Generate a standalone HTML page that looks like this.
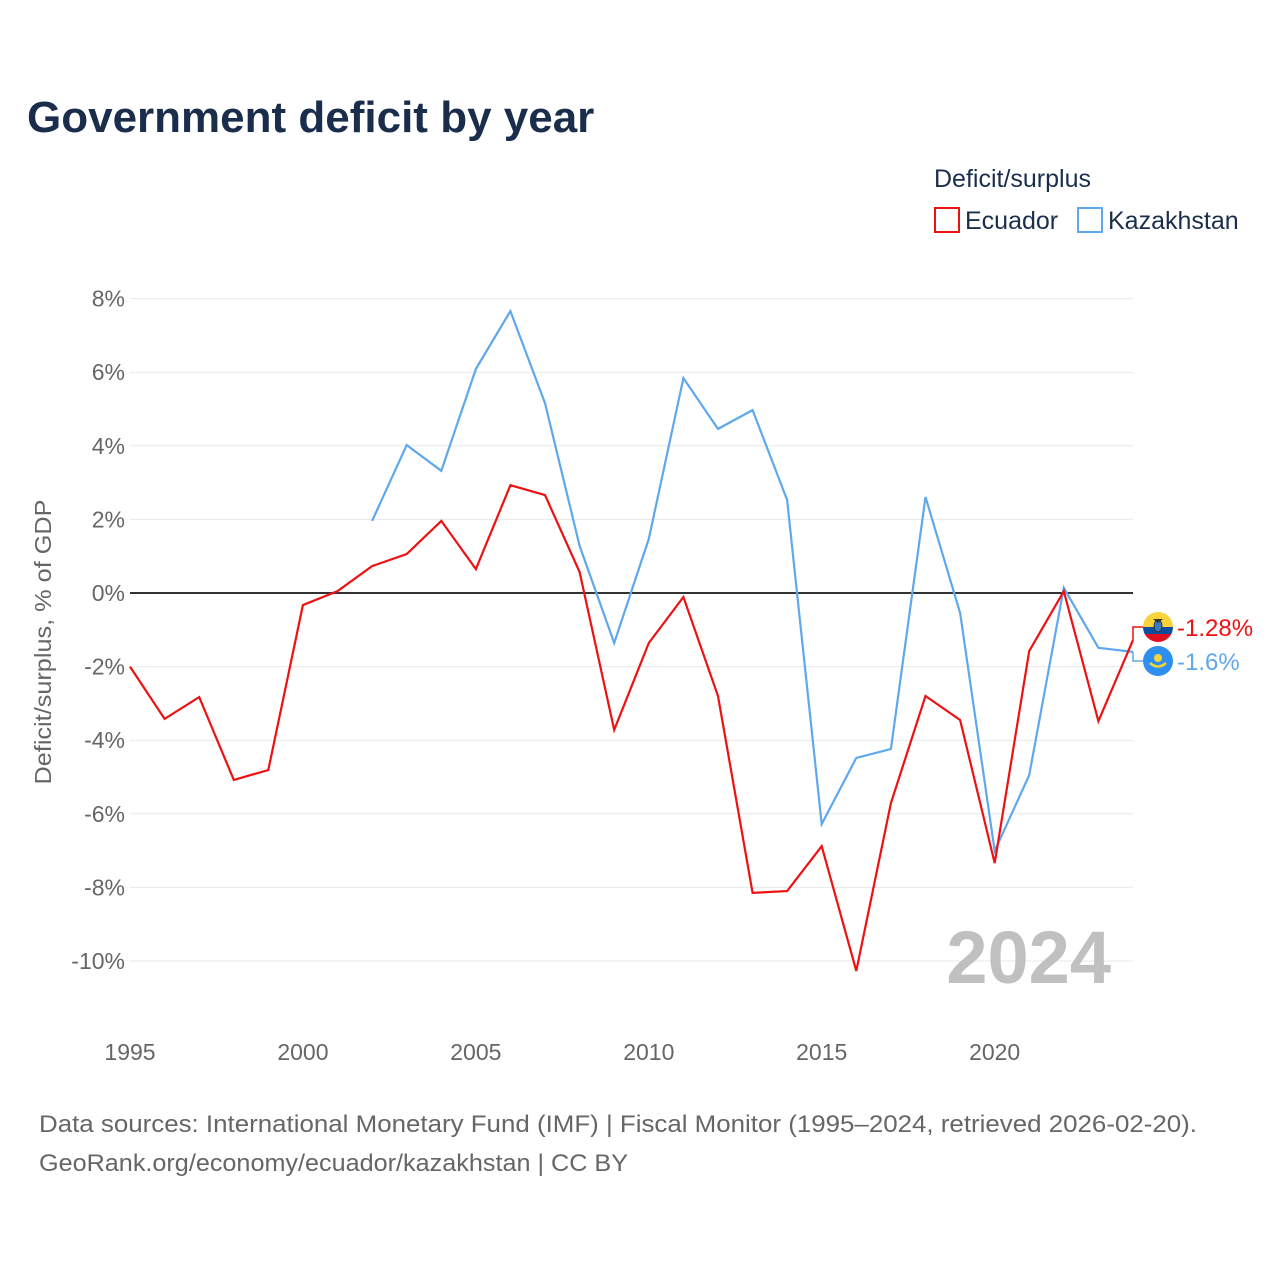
<!DOCTYPE html>
<html><head><meta charset="utf-8">
<style>
body{margin:0;background:#fff;font-family:"Liberation Sans",sans-serif;}
#wrap{position:relative;width:1280px;height:1280px;overflow:hidden;}
</style></head>
<body>
<div id="wrap">
<svg id="svg" width="1280" height="1280" xmlns="http://www.w3.org/2000/svg">
  <text x="27" y="132" font-size="44" font-weight="bold" fill="#1a2e4c">Government deficit by year</text>
  <text x="934" y="187" font-size="25" fill="#1a2e4c">Deficit/surplus</text>
  <g>
    <rect x="935" y="208" width="24" height="24" fill="none" stroke="#ee1111" stroke-width="2"/>
    <text x="965" y="229" font-size="25" fill="#1a2e4c">Ecuador</text>
  </g>
  <g>
    <rect x="1078" y="208" width="24" height="24" fill="none" stroke="#5fa8ec" stroke-width="2"/>
    <text x="1108" y="229" font-size="25" fill="#1a2e4c">Kazakhstan</text>
  </g>
  <g id="grid"></g>
  <text x="1111" y="983" font-size="74" font-weight="bold" fill="#c0c0c0" text-anchor="end">2024</text>
  <g id="series"></g>
  <text transform="translate(51,642) rotate(-90)" font-size="23" fill="#666" text-anchor="middle" textLength="285" lengthAdjust="spacingAndGlyphs">Deficit/surplus, % of GDP</text>
  <text x="39" y="1132" font-size="24" fill="#666" textLength="1158" lengthAdjust="spacingAndGlyphs">Data sources: International Monetary Fund (IMF) | Fiscal Monitor (1995–2024, retrieved 2026-02-20).</text>
  <text x="39" y="1171" font-size="24" fill="#666" textLength="589" lengthAdjust="spacingAndGlyphs">GeoRank.org/economy/ecuador/kazakhstan | CC BY</text>
</svg>
</div>
<script>
const years = [1995,1996,1997,1998,1999,2000,2001,2002,2003,2004,2005,2006,2007,2008,2009,2010,2011,2012,2013,2014,2015,2016,2017,2018,2019,2020,2021,2022,2023,2024];
const ecuador = [-2.0,-3.42,-2.83,-5.08,-4.81,-0.33,0.05,0.73,1.06,1.96,0.65,2.93,2.66,0.57,-3.72,-1.36,-0.11,-2.80,-8.15,-8.10,-6.88,-10.27,-5.71,-2.80,-3.45,-7.34,-1.58,0.05,-3.48,-1.28];
const kazakhstan = [null,null,null,null,null,null,null,1.96,4.02,3.32,6.09,7.66,5.16,1.28,-1.36,1.47,5.84,4.46,4.97,2.53,-6.28,-4.48,-4.24,2.61,-0.54,-7.01,-4.95,0.14,-1.49,-1.60];
const yTicks = [8,6,4,2,0,-2,-4,-6,-8,-10];
const yTickLabels = ["8%","6%","4%","2%","0%","-2%","-4%","-6%","-8%","-10%"];
const xTicks = [1995,2000,2005,2010,2015,2020];

const NS="http://www.w3.org/2000/svg";
const X = y => 130 + (y-1995)*(1133-130)/29;
const Y = v => 593 - v*36.8;
function mk(tag, attrs, parent){const e=document.createElementNS(NS,tag);for(const k in attrs)e.setAttribute(k,attrs[k]);parent.appendChild(e);return e;}
const grid=document.getElementById('grid'), ser=document.getElementById('series');

yTicks.forEach((t,i)=>{
  const l=mk('line',{x1:130,x2:1133,y1:Y(t),y2:Y(t),stroke:t===0?'#333':'#e8e8e8','stroke-width':t===0?2:1},grid);
  
  
  const tx=mk('text',{x:125,y:Y(t)+8,'font-size':23,fill:'#666','text-anchor':'end'},grid);
  tx.textContent=yTickLabels[i];
  
  
});
xTicks.forEach(t=>{
  const tx=mk('text',{x:X(t),y:1060,'font-size':23,fill:'#666','text-anchor':'middle'},grid);
  tx.textContent=t;
  
  
});

function line(vals,color,name){
  let d='';let started=false;
  vals.forEach((v,i)=>{if(v===null){started=false;return;}d+=(started?'L':'M')+X(years[i]).toFixed(1)+','+Y(v).toFixed(1);started=true;});
  const p=mk('path',{d:d,fill:'none',stroke:color,'stroke-width':2.2,'stroke-linejoin':'miter'},ser);
  
  
}
line(kazakhstan,'#5fa8ec','kazakhstan-line');
line(ecuador,'#ee1111','ecuador-line');

const last=years.length-1;
const eY=Y(ecuador[last]), kY=Y(kazakhstan[last]);
const ly1=627, ly2=661;
const c1=mk('path',{d:`M${X(2024)},${eY}L1133,${Math.min(eY,ly1)}L1143,${ly1}`,fill:'none',stroke:'#ee1111','stroke-width':1.5},ser);


const c2=mk('path',{d:`M${X(2024)},${kY}L1133,${ly2}L1143,${ly2}`,fill:'none',stroke:'#5fa8ec','stroke-width':1.5},ser);



const fe=mk('g',{},ser);


const cp=mk('clipPath',{id:'cf1'},fe);
mk('circle',{cx:1158,cy:ly1,r:15},cp);
const gf=mk('g',{'clip-path':'url(#cf1)'},fe);
mk('rect',{x:1143,y:ly1-15,width:30,height:15,fill:'#f9d33a'},gf);
mk('rect',{x:1143,y:ly1,width:30,height:8,fill:'#0b4ea2'},gf);
mk('rect',{x:1143,y:ly1+7,width:30,height:9,fill:'#e01020'},gf);
mk('ellipse',{cx:1158,cy:ly1-1,rx:4,ry:6,fill:'#3a78c0',stroke:'#333','stroke-width':1},fe);
mk('path',{d:`M1153,${ly1-8}L1163,${ly1-8}L1158,${ly1-4}Z`,fill:'#333'},fe);
const fk=mk('g',{},ser);


mk('circle',{cx:1158,cy:ly2,r:15,fill:'#2f8ff0'},fk);
mk('circle',{cx:1158,cy:ly2-3,r:4,fill:'#f6d53a'},fk);
mk('path',{d:`M1150,${ly2+2}Q1158,${ly2+9} 1166,${ly2+2}`,fill:'none',stroke:'#f6d53a','stroke-width':2.5},fk);

const t1=mk('text',{x:1177,y:ly1+9,'font-size':24,fill:'#ee1111'},ser);
t1.textContent='-1.28%';


const t2=mk('text',{x:1177,y:ly2+9,'font-size':24,fill:'#5fa8ec'},ser);
t2.textContent='-1.6%';


</script>
</body></html>
